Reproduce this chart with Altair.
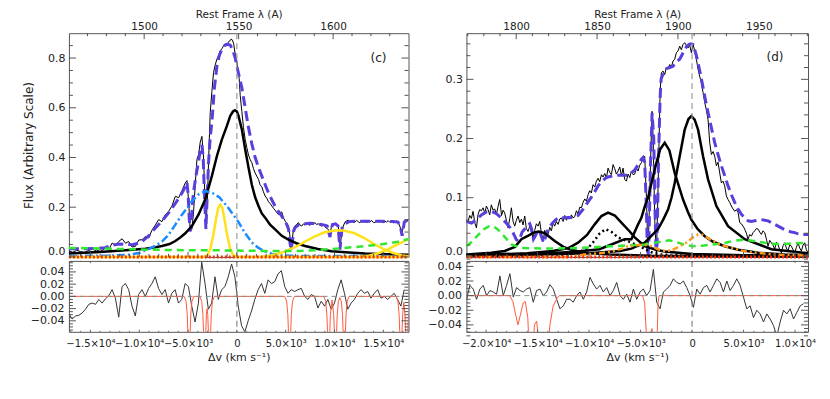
import altair as alt
import pandas as pd

FONT = "DejaVu Sans"
TICK = "#555555"
PURPLE = "#5a3fdc"
C_KMS = 299792.458
LAM0_C = 1549.06   # C IV
LAM0_D = 1908.73   # C III]

VDOM_C = [-17200, 17580]
VDOM_D = [-21910, 11260]
FDOM_C = [0.0, 0.9]
FDOM_D = [0.0, 0.378]
RDOM_C = [-0.058, 0.058]
RDOM_D = [-0.0495, 0.0475]
W_C, W_D, H_MAIN, H_RES = 340, 342, 224, 71
U = alt.Undefined

# ---------------- tick values / labels ----------------
C_V_MAJOR = [-15000, -10000, -5000, 0, 5000, 10000, 15000]
C_V_LABELS = ["−1.5×10⁴", "−1.0×10⁴", "−5.0×10³", "0", "5.0×10³", "1.0×10⁴", "1.5×10⁴"]
D_V_MAJOR = [-20000, -15000, -10000, -5000, 0, 5000, 10000]
D_V_LABELS = ["−2.0×10⁴", "−1.5×10⁴", "−1.0×10⁴", "−5.0×10³", "0", "5.0×10³", "1.0×10⁴"]
C_V_MINOR = [v for v in range(-17000, 17581, 1000) if v % 5000]
D_V_MINOR = [v for v in range(-21000, 11261, 1000) if v % 5000]
C_LAM_MAJOR = [1500, 1550, 1600]
C_LAM_MINOR = [l for l in range(1470, 1640, 10) if l % 50]
D_LAM_MAJOR = [1800, 1850, 1900, 1950]
D_LAM_MINOR = [l for l in range(1770, 1981, 10) if l % 50]
C_F_MAJOR = [0.0, 0.2, 0.4, 0.6, 0.8]
C_F_MINOR = [round(0.05 * i, 3) for i in range(1, 18) if i % 4]
D_F_MAJOR = [0.0, 0.1, 0.2, 0.3]
D_F_MINOR = [round(0.02 * i, 3) for i in range(1, 19) if i % 5]
R_MAJOR = [-0.04, -0.02, 0.0, 0.02, 0.04]
R_MINOR = [round(0.005 * i, 3) for i in range(-11, 12) if i % 4]

# ---------------- panel (c) data ----------------
SPEC_C = [(-17200,0.024),(-16800,0.019),(-16400,0.027),(-16000,0.021),(-15600,0.018),(-15200,0.026),(-14800,0.020),(-14400,0.028),(-14000,0.022),(-13800,0.027),(-13460,0.036),(-13100,0.030),(-12780,0.056),(-12440,0.046),(-12100,0.062),(-11760,0.073),(-11400,0.055),(-11080,0.062),(-10740,0.040),(-10400,0.042),(-10050,0.068),(-9710,0.069),(-9370,0.082),(-9030,0.076),(-8690,0.108),(-8350,0.128),(-8010,0.150),(-7670,0.142),(-7330,0.170),(-6990,0.183),(-6650,0.205),(-6300,0.244),(-5960,0.238),(-5620,0.267),(-5280,0.298),(-5110,0.307),(-4940,0.223),(-4770,0.103),(-4600,0.112),(-4430,0.183),(-4250,0.300),(-4090,0.392),(-3920,0.411),(-3750,0.462),(-3580,0.485),(-3410,0.398),(-3240,0.200),(-3170,0.112),(-3000,0.250),(-2900,0.380),(-2730,0.580),(-2560,0.665),(-2390,0.741),(-2220,0.772),(-2050,0.795),(-1870,0.810),(-1700,0.829),(-1530,0.838),(-1360,0.849),(-1190,0.858),(-1020,0.850),(-850,0.866),(-680,0.870),(-580,0.877),(-460,0.872),(-340,0.860),(-170,0.816),(0,0.785),(120,0.750),(240,0.718),(341,0.650),(511,0.585),(680,0.520),(852,0.473),(1020,0.440),(1193,0.410),(1360,0.392),(1533,0.379),(1700,0.355),(1870,0.338),(2040,0.325),(2215,0.312),(2380,0.290),(2555,0.282),(2720,0.262),(2896,0.245),(3070,0.236),(3236,0.222),(3400,0.215),(3577,0.205),(3750,0.196),(3917,0.188),(4090,0.178),(4258,0.171),(4430,0.176),(4599,0.181),(4770,0.158),(4940,0.144),(5110,0.135),(5280,0.124),(5420,0.090),(5553,0.030),(5680,0.070),(5791,0.111),(5960,0.125),(6132,0.131),(6300,0.138),(6470,0.128),(6643,0.124),(6810,0.133),(6980,0.128),(7150,0.136),(7324,0.131),(7500,0.127),(7660,0.138),(7830,0.133),(8005,0.138),(8170,0.130),(8340,0.134),(8510,0.127),(8687,0.124),(8850,0.130),(9030,0.121),(9200,0.115),(9368,0.111),(9538,0.084),(9708,0.131),(9870,0.127),(10050,0.133),(10220,0.129),(10390,0.124),(10560,0.030),(10730,0.095),(10900,0.124),(11070,0.140),(11240,0.145),(11410,0.148),(11580,0.141),(11750,0.146),(11920,0.138),(12090,0.140),(12260,0.147),(12430,0.142),(12600,0.137),(12770,0.145),(12940,0.140),(13120,0.144),(13290,0.137),(13460,0.146),(13630,0.141),(13800,0.147),(13970,0.139),(14140,0.138),(14310,0.145),(14480,0.140),(14650,0.147),(14820,0.141),(14990,0.138),(15160,0.144),(15330,0.140),(15500,0.146),(15670,0.139),(15840,0.143),(16010,0.137),(16180,0.140),(16350,0.145),(16520,0.138),(16690,0.124),(16860,0.100),(16930,0.097),(17030,0.118),(17200,0.144),(17370,0.141),(17540,0.151)]

MODEL_C = [(-17200,0.033),(-16000,0.033),(-14500,0.034),(-13500,0.037),(-12800,0.047),(-12100,0.052),(-11400,0.050),(-10700,0.049),(-10000,0.056),(-9710,0.062),(-9030,0.085),(-8350,0.116),(-7670,0.145),(-6990,0.177),(-6300,0.215),(-5620,0.257),(-5280,0.283),(-5110,0.300),(-4990,0.25),(-4870,0.15),(-4770,0.103),(-4660,0.14),(-4540,0.22),(-4430,0.264),(-4170,0.33),(-3920,0.385),(-3750,0.43),(-3580,0.45),(-3450,0.40),(-3320,0.25),(-3170,0.112),(-3030,0.25),(-2900,0.38),(-2730,0.48),(-2560,0.54),(-2300,0.68),(-2050,0.765),(-1800,0.81),(-1530,0.836),(-1270,0.85),(-1020,0.855),(-680,0.852),(-400,0.83),(-170,0.80),(100,0.75),(511,0.68),(850,0.60),(1193,0.52),(1533,0.455),(1873,0.40),(2215,0.36),(2555,0.325),(2900,0.29),(3236,0.258),(3577,0.23),(3917,0.204),(4258,0.183),(4599,0.164),(4850,0.145),(5110,0.131),(5300,0.11),(5430,0.06),(5553,0.030),(5680,0.06),(5820,0.105),(5960,0.118),(6300,0.128),(6643,0.131),(7000,0.133),(7500,0.135),(8000,0.134),(8500,0.131),(9000,0.128),(9250,0.125),(9400,0.10),(9538,0.080),(9650,0.11),(9800,0.13),(10100,0.133),(10350,0.125),(10460,0.08),(10560,0.030),(10660,0.07),(10780,0.118),(10950,0.13),(11500,0.142),(12000,0.143),(13000,0.143),(14000,0.144),(15000,0.143),(16000,0.142),(16500,0.140),(16750,0.125),(16850,0.10),(16930,0.085),(17030,0.11),(17150,0.14),(17350,0.146),(17580,0.148)]

LOR_C = [(-17200,0.014),(-14480,0.019),(-12500,0.024),(-11070,0.028),(-9370,0.033),(-8500,0.038),(-7665,0.044),(-6900,0.052),(-6300,0.064),(-5800,0.078),(-5280,0.095),(-4600,0.124),(-3917,0.171),(-3236,0.232),(-2555,0.326),(-2044,0.406),(-1530,0.473),(-1020,0.527),(-680,0.567),(-400,0.585),(-200,0.590),(0,0.585),(170,0.567),(511,0.513),(852,0.433),(1193,0.36),(1533,0.29),(1874,0.24),(2215,0.205),(2555,0.175),(2896,0.158),(3400,0.13),(3917,0.111),(4600,0.085),(5280,0.070),(6100,0.055),(6983,0.044),(8300,0.032),(9708,0.023),(11500,0.018),(13120,0.014),(15500,0.011),(17580,0.009)]

BLUE_C = [(-17200,0.004),(-13000,0.005),(-11000,0.009),(-10000,0.016),(-9710,0.022),(-9000,0.032),(-8350,0.045),(-7665,0.062),(-6990,0.089),(-6300,0.13),(-5620,0.17),(-4950,0.205),(-4600,0.225),(-3900,0.252),(-3200,0.265),(-2500,0.257),(-1800,0.24),(-1020,0.205),(-500,0.177),(170,0.14),(852,0.095),(1533,0.058),(2215,0.036),(2896,0.022),(3600,0.012),(4600,0.006),(6000,0.004),(17580,0.004)]

YEL1_C = [(-17200,0.0),(-3400,0.0),(-3000,0.008),(-2700,0.035),(-2400,0.09),(-2100,0.16),(-1900,0.198),(-1700,0.21),(-1500,0.198),(-1300,0.16),(-1000,0.09),(-700,0.035),(-400,0.008),(0,0.0),(17580,0.0)]
YEL2_C = [(2500,0.0),(3500,0.006),(4500,0.016),(5300,0.028),(6000,0.04),(7000,0.062),(8000,0.083),(9000,0.099),(10000,0.106),(10500,0.107),(11000,0.105),(12000,0.096),(13000,0.077),(14000,0.053),(15000,0.032),(16000,0.016),(17000,0.006),(17580,0.003)]
YEL3_C = [(12500,0.0),(13500,0.005),(14500,0.015),(15500,0.03),(16200,0.045),(17000,0.06),(17580,0.073)]

GREEN_C = [(-17200,0.036),(-15000,0.035),(-13000,0.033),(-11000,0.031),(-9000,0.029),(-7000,0.028),(-5000,0.027),(-3000,0.027),(-1000,0.026),(1000,0.025),(3000,0.024),(5000,0.024),(6500,0.024),(8000,0.027),(9500,0.031),(11000,0.036),(12500,0.041),(14000,0.047),(15500,0.054),(16500,0.061),(17580,0.072)]

ZERO_C = [(-17200,0.0),(17580,0.0)]

RES_C_V = list(range(-17200, -17200 + 340 * 102, 340))
RES_C = [-0.029,-0.037,-0.032,-0.031,-0.027,-0.021,-0.013,-0.011,-0.013,-0.005,-0.011,-0.004,0.001,0.011,-0.003,-0.034,0.016,0.021,0.011,-0.016,-0.032,0.003,0.011,0.0,0.013,0.021,0.032,0.013,0.003,0.011,-0.011,0.005,0.011,-0.011,-0.005,0.021,0.016,-0.016,-0.042,-0.011,0.056,0.021,-0.021,-0.011,0.032,-0.005,0.011,0.016,0.032,0.053,0.032,-0.016,-0.048,-0.058,-0.04,-0.024,-0.005,0.011,0.021,0.005,0.027,0.021,0.024,0.037,0.042,0.016,0.005,0.011,0.008,0.011,0.013,0.0,-0.005,0.003,0.0,-0.019,-0.008,-0.016,-0.005,-0.021,-0.011,0.011,0.027,0.005,-0.021,-0.011,-0.005,0.005,0.011,0.005,0.008,-0.003,0.005,0.011,-0.003,0.0,-0.005,0.0,0.005,-0.005,-0.016,0.011]

RED_RES_C = [(-17200,0),(-5400,0),(-5200,-0.008),(-5080,-0.03),(-4990,-0.07),(-4900,-0.12),(-4810,-0.07),(-4720,-0.03),(-4600,-0.008),(-4400,0),(-3800,0),(-3600,-0.008),(-3480,-0.03),(-3390,-0.07),(-3300,-0.12),(-3210,-0.07),(-3120,-0.03),(-3050,-0.02),(-2980,-0.03),(-2890,-0.07),(-2800,-0.12),(-2710,-0.07),(-2620,-0.03),(-2500,-0.008),(-2300,0),(4900,0),(5100,-0.008),(5220,-0.03),(5310,-0.07),(5400,-0.12),(5490,-0.07),(5580,-0.03),(5700,-0.008),(5900,0),(8900,0),(9100,-0.008),(9220,-0.03),(9310,-0.07),(9400,-0.12),(9490,-0.07),(9580,-0.03),(9750,-0.006),(9920,-0.03),(10010,-0.07),(10100,-0.12),(10190,-0.07),(10280,-0.03),(10400,-0.008),(10550,-0.002),(10700,-0.008),(10820,-0.03),(10910,-0.07),(11000,-0.12),(11090,-0.07),(11180,-0.03),(11300,-0.008),(11500,0),(16300,0),(16500,-0.008),(16620,-0.03),(16710,-0.07),(16800,-0.12),(16890,-0.07),(16980,-0.03),(17100,-0.01),(17220,-0.03),(17310,-0.07),(17400,-0.12),(17490,-0.07),(17580,-0.03)]

# ---------------- panel (d) data ----------------
SPEC_D = [(-21910,0.063),(-21750,0.060),(-21590,0.070),(-21430,0.065),(-21267,0.077),(-21100,0.058),(-20940,0.049),(-20781,0.072),(-20620,0.080),(-20460,0.078),(-20296,0.083),(-20130,0.074),(-19970,0.086),(-19810,0.080),(-19650,0.071),(-19490,0.088),(-19325,0.079),(-19160,0.081),(-19000,0.072),(-18840,0.085),(-18677,0.097),(-18500,0.070),(-18350,0.079),(-18192,0.074),(-18030,0.062),(-17868,0.049),(-17700,0.065),(-17545,0.083),(-17380,0.060),(-17221,0.052),(-17060,0.062),(-16897,0.069),(-16730,0.058),(-16570,0.064),(-16410,0.054),(-16250,0.069),(-16090,0.048),(-15926,0.043),(-15760,0.052),(-15600,0.042),(-15440,0.032),(-15280,0.045),(-15120,0.056),(-14950,0.052),(-14793,0.060),(-14630,0.040),(-14469,0.026),(-14300,0.045),(-14150,0.036),(-13984,0.038),(-13820,0.050),(-13660,0.044),(-13500,0.058),(-13340,0.052),(-13174,0.060),(-13010,0.055),(-12850,0.064),(-12689,0.066),(-12520,0.060),(-12360,0.070),(-12200,0.062),(-12042,0.069),(-11880,0.064),(-11720,0.071),(-11560,0.066),(-11394,0.068),(-11230,0.078),(-11070,0.072),(-10910,0.084),(-10747,0.083),(-10590,0.092),(-10420,0.098),(-10260,0.094),(-10100,0.105),(-9940,0.112),(-9780,0.108),(-9614,0.122),(-9450,0.118),(-9290,0.128),(-9128,0.133),(-8970,0.127),(-8800,0.139),(-8643,0.135),(-8480,0.141),(-8320,0.133),(-8157,0.150),(-8000,0.143),(-7830,0.139),(-7672,0.156),(-7510,0.149),(-7350,0.140),(-7186,0.145),(-7020,0.152),(-6860,0.137),(-6701,0.150),(-6540,0.131),(-6377,0.128),(-6215,0.140),(-6053,0.134),(-5892,0.145),(-5730,0.139),(-5568,0.140),(-5400,0.150),(-5244,0.145),(-5082,0.155),(-4920,0.159),(-4760,0.166),(-4600,0.170),(-4430,0.100),(-4276,0.003),(-4150,0.080),(-4000,0.180),(-3880,0.246),(-3780,0.200),(-3620,0.060),(-3463,0.003),(-3350,0.080),(-3200,0.200),(-3100,0.280),(-2980,0.311),(-2818,0.314),(-2657,0.308),(-2495,0.320),(-2330,0.318),(-2170,0.325),(-2010,0.321),(-1848,0.331),(-1686,0.334),(-1524,0.345),(-1362,0.348),(-1200,0.356),(-1040,0.350),(-876,0.359),(-714,0.362),(-550,0.357),(-390,0.353),(-230,0.358),(-66,0.345),(96,0.359),(256,0.348),(420,0.334),(582,0.317),(744,0.305),(906,0.294),(1068,0.278),(1229,0.261),(1390,0.248),(1553,0.232),(1715,0.193),(1877,0.173),(2040,0.178),(2200,0.170),(2362,0.154),(2520,0.160),(2685,0.142),(2847,0.125),(3010,0.128),(3171,0.120),(3333,0.103),(3495,0.097),(3660,0.092),(3818,0.086),(3980,0.081),(4142,0.077),(4300,0.080),(4466,0.075),(4628,0.058),(4790,0.056),(4951,0.052),(5113,0.047),(5275,0.040),(5437,0.030),(5600,0.038),(5760,0.035),(5920,0.041),(6084,0.044),(6246,0.048),(6408,0.047),(6570,0.042),(6731,0.038),(6893,0.044),(7055,0.041),(7217,0.030),(7379,0.018),(7540,0.028),(7702,0.024),(7864,0.020),(8026,0.013),(8188,0.025),(8350,0.021),(8510,0.012),(8673,0.007),(8835,0.019),(8997,0.024),(9159,0.015),(9321,0.010),(9483,0.021),(9645,0.018),(9806,0.012),(9968,0.007),(10130,0.016),(10292,0.024),(10454,0.015),(10616,0.010),(10778,0.020),(10940,0.024),(11100,0.012),(11260,0.007)]

MODEL_D = [(-21910,0.060),(-21430,0.057),(-20950,0.063),(-20460,0.071),(-19970,0.076),(-19490,0.077),(-19000,0.073),(-18520,0.066),(-18030,0.057),(-17550,0.047),(-17250,0.036),(-17060,0.029),(-16900,0.027),(-16740,0.030),(-16500,0.042),(-16250,0.047),(-15950,0.054),(-15765,0.056),(-15600,0.048),(-15400,0.030),(-15200,0.036),(-15000,0.045),(-14800,0.043),(-14600,0.033),(-14400,0.024),(-14200,0.035),(-14000,0.046),(-13660,0.055),(-13300,0.062),(-13012,0.066),(-12500,0.066),(-12041,0.066),(-11500,0.067),(-11070,0.070),(-10600,0.080),(-10099,0.093),(-9780,0.101),(-9452,0.110),(-9128,0.120),(-8805,0.127),(-8480,0.132),(-8157,0.135),(-7670,0.137),(-7186,0.138),(-6700,0.138),(-6215,0.138),(-5892,0.142),(-5568,0.147),(-5244,0.156),(-4921,0.165),(-4759,0.168),(-4600,0.160),(-4450,0.090),(-4350,0.020),(-4276,0.0),(-4180,0.030),(-4050,0.150),(-3880,0.243),(-3720,0.200),(-3600,0.080),(-3500,0.010),(-3400,0.020),(-3250,0.170),(-3100,0.270),(-3010,0.300),(-2800,0.310),(-2657,0.315),(-2495,0.318),(-2170,0.320),(-1848,0.322),(-1524,0.330),(-1200,0.334),(-960,0.342),(-714,0.351),(-500,0.356),(-300,0.359),(-100,0.360),(96,0.359),(256,0.350),(420,0.340),(582,0.328),(800,0.310),(1068,0.286),(1300,0.265),(1553,0.244),(1877,0.218),(2200,0.193),(2520,0.173),(2847,0.154),(3171,0.137),(3495,0.120),(3818,0.105),(4142,0.092),(4466,0.081),(4790,0.072),(5113,0.066),(5437,0.061),(5760,0.060),(6084,0.061),(6408,0.062),(6731,0.063),(7055,0.062),(7379,0.061),(7702,0.058),(8026,0.055),(8350,0.052),(8673,0.049),(9000,0.046),(9321,0.044),(9645,0.042),(9968,0.041),(10300,0.039),(10616,0.038),(11260,0.038)]

LOR1_D = [(-21910,0.004),(-19500,0.007),(-18190,0.010),(-17200,0.017),(-16575,0.030),(-15900,0.036),(-15400,0.041),(-14890,0.043),(-14300,0.040),(-13335,0.027),(-12500,0.017),(-11717,0.012),(-10500,0.007),(-8000,0.004),(-4000,0.002),(11260,0.001)]
LOR2_D = [(-21910,0.003),(-16000,0.006),(-13500,0.010),(-12000,0.015),(-11070,0.024),(-10200,0.037),(-9454,0.055),(-8800,0.069),(-8157,0.075),(-7500,0.070),(-6864,0.058),(-6053,0.043),(-5569,0.033),(-4597,0.018),(-3500,0.012),(-2655,0.009),(0,0.005),(5000,0.003),(11260,0.002)]
DOT_D = [(-21910,0.001),(-12500,0.003),(-11000,0.008),(-10100,0.015),(-9500,0.027),(-9000,0.039),(-8400,0.047),(-7800,0.042),(-7200,0.033),(-6500,0.028),(-6000,0.025),(-4760,0.015),(-4000,0.008),(-3000,0.004),(0,0.002),(11260,0.001)]
LOR3_D = [(-21910,0.003),(-15000,0.005),(-11070,0.009),(-9000,0.013),(-7833,0.021),(-6539,0.030),(-5894,0.030),(-5244,0.055),(-4923,0.066),(-4597,0.085),(-4276,0.100),(-3800,0.135),(-3463,0.159),(-3100,0.182),(-2657,0.193),(-2200,0.180),(-1686,0.142),(-1200,0.115),(-876,0.097),(-400,0.076),(-66,0.063),(500,0.048),(1229,0.035),(2000,0.026),(3171,0.018),(4500,0.012),(6408,0.007),(9000,0.004),(11260,0.003)]
LOR4_D = [(-21910,0.002),(-15000,0.004),(-10000,0.006),(-7000,0.010),(-5894,0.014),(-4600,0.024),(-3301,0.047),(-2800,0.063),(-2333,0.080),(-2000,0.100),(-1686,0.125),(-1200,0.170),(-714,0.215),(-350,0.233),(-66,0.238),(250,0.232),(582,0.215),(1068,0.170),(1553,0.131),(2362,0.086),(3495,0.052),(5113,0.030),(7702,0.013),(11260,0.006)]

GREEN_D = [(-21910,0.018),(-21300,0.027),(-20781,0.037),(-20200,0.047),(-19700,0.052),(-19325,0.052),(-18900,0.047),(-18516,0.040),(-18000,0.030),(-17545,0.021),(-16574,0.015),(-14307,0.014),(-11070,0.015),(-7833,0.018),(-4597,0.021),(-2980,0.026),(-2200,0.028),(-1500,0.025),(-800,0.021),(0,0.018),(1000,0.019),(2000,0.021),(3000,0.023),(4000,0.027),(5000,0.029),(6000,0.027),(7055,0.024),(8000,0.022),(9000,0.022),(10000,0.023),(11260,0.024)]

ORANGE_D = [(-21910,0.0),(-12000,0.0),(-10455,0.004),(-9000,0.006),(-7833,0.009),(-6800,0.014),(-6215,0.018),(-5200,0.020),(-4400,0.020),(-3948,0.018),(-3301,0.013),(-2650,0.010),(-2000,0.011),(-1200,0.018),(-552,0.024),(96,0.033),(582,0.038),(1068,0.037),(1715,0.030),(2685,0.021),(3656,0.016),(4951,0.010),(6246,0.007),(8000,0.004),(11260,0.002)]

ZERO_D = [(-21910,0.0),(11260,0.0)]

RES_D_V = list(range(-21900, -21900 + 324 * 102, 324))
RES_D = [-0.005,0.014,0.009,-0.005,0.009,0.014,0.0,0.007,0.005,0.002,0.027,0.0,0.014,0.03,-0.002,0.011,0.007,0.005,0.009,0.011,-0.009,0.007,0.009,0.0,0.005,0.015,0.009,-0.005,-0.018,-0.014,-0.005,-0.005,-0.009,0.0,0.005,-0.005,0.005,0.025,0.016,0.009,0.014,0.005,0.011,0.0,0.007,0.018,0.0,-0.005,0.002,-0.009,0.009,-0.005,0.005,0.009,0.0,0.007,0.036,-0.009,-0.018,0.005,0.009,0.014,0.023,0.018,0.016,0.02,0.011,0.0,-0.016,0.009,0.002,0.011,0.014,0.005,0.014,0.023,0.018,0.005,0.02,0.007,0.014,0.023,0.014,-0.002,-0.018,-0.014,-0.03,-0.02,-0.025,-0.036,-0.025,-0.032,-0.041,-0.055,-0.036,-0.02,-0.025,-0.018,-0.032,-0.023,-0.014,-0.011]

RED_RES_D = [(-21910,0),(-17700,0),(-17400,-0.008),(-17150,-0.025),(-16900,-0.04),(-16650,-0.025),(-16400,-0.01),(-16200,-0.008),(-15950,-0.03),(-15800,-0.08),(-15650,-0.12),(-15500,-0.08),(-15300,-0.04),(-15100,-0.035),(-14900,-0.06),(-14700,-0.12),(-14300,-0.12),(-14000,-0.07),(-13800,-0.04),(-13500,-0.015),(-13100,-0.003),(-12900,0),(-4800,0),(-4600,-0.01),(-4450,-0.05),(-4300,-0.12),(-4100,-0.09),(-3900,-0.045),(-3700,-0.07),(-3500,-0.12),(-3400,-0.06),(-3300,-0.01),(-3200,0),(11260,0)]


# ---------------- helpers ----------------
def sc(dom):
    return alt.Scale(domain=dom, nice=False, zero=False)


def lam_dom(vdom, lam0):
    return [lam0 * (1 + v / C_KMS) for v in vdom]


def curve(pairs, vdom, fdom, color, width, dash=None, clip=False, xaxis=None, yaxis=U):
    df = pd.DataFrame(pairs, columns=["v", "f"])
    props = {"color": color, "strokeWidth": width, "clip": clip}
    if dash is not None:
        props["strokeDash"] = dash
    return alt.Chart(df).mark_line(**props).encode(
        x=alt.X("v:Q", scale=sc(vdom), axis=xaxis),
        y=alt.Y("f:Q", scale=sc(fdom), axis=yaxis),
    )


def side_ticks(vals, dom, width, length):
    df = pd.DataFrame({"t": vals})
    base = alt.Chart(df).mark_rule(color=TICK, strokeWidth=1)
    y = alt.Y("t:Q", scale=sc(dom))
    return [base.encode(y=y, x=alt.value(0), x2=alt.value(length)),
            base.encode(y=y, x=alt.value(width - length), x2=alt.value(width))]


def edge_ticks(vals, dom, field, height, length, top=True, bottom=True, xaxis=U):
    df = pd.DataFrame({field: vals})
    base = alt.Chart(df).mark_rule(color=TICK, strokeWidth=1)
    x = alt.X(f"{field}:Q", scale=sc(dom), axis=xaxis)
    out = []
    if top:
        out.append(base.encode(x=x, y=alt.value(0), y2=alt.value(length)))
    if bottom:
        out.append(base.encode(x=x, y=alt.value(height - length), y2=alt.value(height)))
    return out


def label_expr(vals, labels):
    parts = [f"datum.value == {v} ? '{l}'" for v, l in zip(vals, labels)]
    return " : ".join(parts) + " : ''"


def main_panel(vdom, fdom, lam0, width, spec, model, comps, tag, tag_pos,
               fmaj, fmin, vmin, lmaj, lmin, ytitle):
    yaxis = alt.Axis(values=fmaj, tickCount=len(fmaj), format=".1f", labelFlush=True,
                     labelPadding=4, title=ytitle, titlePadding=12, titleFontSize=12,
                     labelOverlap=False)
    layers = [curve(spec, vdom, fdom, "black", 1, yaxis=yaxis),
              curve(model, vdom, fdom, PURPLE, 3, dash=[10, 5])]
    for pairs, color, w, dash in comps:
        layers.append(curve(pairs, vdom, fdom, color, w, dash))
    zero = alt.Chart(pd.DataFrame({"v": [0]})).mark_rule(
        color="#9a9a9a", strokeDash=[6, 4], strokeWidth=1.2
    ).encode(x=alt.X("v:Q", scale=sc(vdom), axis=None))
    txt = alt.Chart(pd.DataFrame({"v": [tag_pos[0]], "f": [tag_pos[1]], "t": [tag]})).mark_text(
        font=FONT, fontSize=12, color="#222222"
    ).encode(x=alt.X("v:Q", scale=sc(vdom), axis=None),
             y=alt.Y("f:Q", scale=sc(fdom)), text="t:N")
    layers += [zero, txt]
    layers += side_ticks(fmaj, fdom, width, 7) + side_ticks(fmin, fdom, width, 4)
    vmaj = [v for v in range(-25000, 25001, 5000) if vdom[0] <= v <= vdom[1]]
    layers += edge_ticks(vmaj, vdom, "v", H_MAIN, 5, top=False, xaxis=None)
    layers += edge_ticks(vmin, vdom, "v", H_MAIN, 3, top=False, xaxis=None)
    vel = alt.layer(*layers)

    ldom = lam_dom(vdom, lam0)
    lam_axis = alt.Axis(orient="top", values=lmaj, tickCount=len(lmaj), format="d",
                        title="Rest Frame λ (A)",
                        labelPadding=2, labelFontSize=10.5, titleFontSize=10.5,
                        titleY=-16, titleBaseline="alphabetic",
                        labelFlush=False, labelOverlap=False)
    lam_pts = alt.Chart(pd.DataFrame({"lam": ldom, "f": [fdom[1] / 2] * 2})).mark_point(
        opacity=0, size=1
    ).encode(x=alt.X("lam:Q", scale=sc(ldom), axis=lam_axis),
             y=alt.Y("f:Q", scale=sc(fdom)))
    lam_layers = [lam_pts]
    lam_layers += edge_ticks(lmaj, ldom, "lam", H_MAIN, 6, bottom=False)
    lam_layers += edge_ticks(lmin, ldom, "lam", H_MAIN, 3, bottom=False)
    lam = alt.layer(*lam_layers)
    return alt.layer(vel, lam).resolve_scale(x="independent").properties(width=width, height=H_MAIN)


def resid_panel(vdom, rdom, width, grid, vals, red, vmaj, vlabels, vmin):
    xaxis = alt.Axis(values=vmaj, tickCount=len(vmaj), labelExpr=label_expr(vmaj, vlabels),
                     title="Δv (km s⁻¹)", labelPadding=7, titlePadding=3, labelOverlap=False,
                     labelFlush=False, labelBound=False, labelFontSize=10)
    yaxis = alt.Axis(values=R_MAJOR, tickCount=len(R_MAJOR), format=".2f", labelPadding=5,
                     title=None, labelOverlap=False)
    df = pd.DataFrame({"v": grid, "r": vals})
    black = alt.Chart(df).mark_line(color="#333333", strokeWidth=1, clip=True).encode(
        x=alt.X("v:Q", scale=sc(vdom), axis=xaxis),
        y=alt.Y("r:Q", scale=sc(rdom), axis=yaxis))
    rdf = pd.DataFrame(red, columns=["v", "r"])
    redline = alt.Chart(rdf).mark_line(color="#ff5a3c", strokeWidth=1, clip=True).encode(
        x=alt.X("v:Q", scale=sc(vdom)),
        y=alt.Y("r:Q", scale=sc(rdom)))
    hzero = alt.Chart(pd.DataFrame({"r": [0.0]})).mark_rule(
        color="#8a8a8a", strokeDash=[5, 4], strokeWidth=1
    ).encode(y=alt.Y("r:Q", scale=sc(rdom)))
    vzero = alt.Chart(pd.DataFrame({"v": [0]})).mark_rule(
        color="#8a8a8a", strokeDash=[6, 4], strokeWidth=1.2
    ).encode(x=alt.X("v:Q", scale=sc(vdom)))
    layers = [black, redline, hzero, vzero]
    layers += side_ticks(R_MAJOR, rdom, width, 7) + side_ticks(R_MINOR, rdom, width, 4)
    layers += edge_ticks(vmaj, vdom, "v", H_RES, 2) + edge_ticks(vmin, vdom, "v", H_RES, 1)
    return alt.layer(*layers).properties(width=width, height=H_RES)


YEL = "#ffe11a"
GRN = "#2fe82f"
BLU = "#1a8cff"
ORG = "#ff9a1a"
RED = "#ff2a00"

comps_c = [
    (LOR_C, "black", 2.5, None),
    (BLUE_C, BLU, 2.5, [8, 3, 2, 3]),
    (YEL1_C, YEL, 2.5, None),
    (YEL2_C, YEL, 2.5, None),
    (YEL3_C, YEL, 2.5, None),
    (GREEN_C, GRN, 2.5, [7, 5]),
    (ZERO_C, RED, 3, [2, 2]),
]
comps_d = [
    (LOR1_D, "black", 2.5, None),
    (LOR2_D, "black", 2.5, None),
    (DOT_D, "black", 2.5, [2, 3]),
    (LOR3_D, "black", 2.5, None),
    (LOR4_D, "black", 2.5, None),
    (GREEN_D, GRN, 2.5, [7, 5]),
    (ORANGE_D, ORG, 2.5, [6, 3, 2, 3, 2, 3]),
    (ZERO_D, RED, 3, [2, 2]),
]

main_c = main_panel(VDOM_C, FDOM_C, LAM0_C, W_C, SPEC_C, MODEL_C, comps_c, "(c)", (14500, 0.80),
                    C_F_MAJOR, C_F_MINOR, C_V_MINOR, C_LAM_MAJOR, C_LAM_MINOR,
                    "Flux (Arbitrary Scale)")
main_d = main_panel(VDOM_D, FDOM_D, LAM0_D, W_D, SPEC_D, MODEL_D, comps_d, "(d)", (8050, 0.338),
                    D_F_MAJOR, D_F_MINOR, D_V_MINOR, D_LAM_MAJOR, D_LAM_MINOR, None)
res_c = resid_panel(VDOM_C, RDOM_C, W_C, RES_C_V, RES_C, RED_RES_C, C_V_MAJOR, C_V_LABELS, C_V_MINOR)
res_d = resid_panel(VDOM_D, RDOM_D, W_D, RES_D_V, RES_D, RED_RES_D, D_V_MAJOR, D_V_LABELS, D_V_MINOR)

chart = alt.concat(
    main_c, main_d, res_c, res_d, columns=2, spacing={"row": 4, "column": 58}, bounds="flush"
).configure_view(
    stroke="#555555", strokeWidth=1
).configure_axis(
    labelFont=FONT, titleFont=FONT, labelFontSize=11, titleFontSize=11,
    labelColor="#222222", titleColor="#222222", titleFontWeight="normal",
    ticks=False, tickSize=0, domain=False, grid=False, labelOverlap=False
).properties(
    padding={"left": 14, "top": 0, "right": 5, "bottom": 5}
)

chart.save("out.html", embed_options={"renderer": "svg", "actions": False})
